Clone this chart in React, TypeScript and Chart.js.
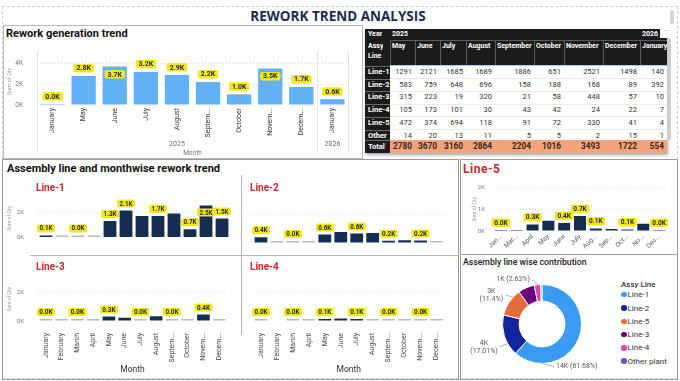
import React, { useEffect, useRef } from "react";
import { Chart, registerables } from "chart.js";

Chart.register(...registerables);

const FONT = "Roboto, 'Noto Sans', 'DejaVu Sans', sans-serif";
const TITLE_FONT = "'Open Sans', Roboto, sans-serif";
Chart.defaults.font.family = FONT;

// ================= DATA =================
const trendMonths = ["January", "May", "June", "July", "August", "Septem...", "October", "Novem...", "Decem...", "January"];
const trendYears = ["2025", "2025", "2025", "2025", "2025", "2025", "2025", "2025", "2025", "2026"];
const trendQty = [30, 2780, 3670, 3160, 2864, 2204, 1016, 3493, 1722, 554];

const tableYears = ["2025", "", "", "", "", "", "", "", "2026"];
const tableMonths = ["May", "June", "July", "August", "September", "October", "November", "December", "January"];
const tableRowNames = ["Line-1", "Line-2", "Line-3", "Line-4", "Line-5", "Other"];
const tableLine1 = [1291, 2121, 1685, 1689, 1886, 651, 2521, 1498, 140];
const tableLine2 = [583, 759, 648, 696, 158, 188, 168, 89, 392];
const tableLine3 = [315, 223, 19, 320, 21, 58, 448, 57, 10];
const tableLine4 = [105, 173, 101, 30, 43, 42, 24, 22, 7];
const tableLine5 = [472, 374, 694, 118, 91, 72, 330, 41, 4];
const tableOther = [14, 20, 13, 11, 5, 5, 2, 15, 1];
const tableTotal = [2780, 3670, 3160, 2864, 2204, 1016, 3493, 1722, 554];

const smMonths = ["January", "February", "March", "April", "May", "June", "July", "August", "Septem...", "October", "Novem...", "Decem..."];
const line1Qty = [140, 8, 10, 6, 1291, 2121, 1685, 1689, 1886, 651, 2521, 1498];
const line2Qty = [392, 6, 10, 5, 583, 759, 648, 696, 158, 188, 168, 89];
const line3Qty = [10, 6, 8, 5, 315, 223, 19, 320, 21, 58, 448, 57];
const line4Qty = [7, null, 5, 4, 105, 173, 101, 30, 43, 42, 24, 22];
const line1LabelIdx = [0, 2, 4, 5, 7, 9, 10, 11];
const altLabelIdx = [0, 2, 4, 6, 8, 10];

const line5Months = ["Jan...", "Mar...", "April", "May", "June", "July", "Aug...", "Sep...", "Oct...", "No...", "Dec..."];
const line5Qty = [4, 20, 300, 472, 374, 694, 118, 91, 72, 330, 41];
const line5LabelIdx = [0, 2, 4, 5, 6, 8, 10];

const donutLines = ["Line-1", "Line-2", "Line-5", "Line-3", "Line-4", "Other plant"];
const donutQty = [13526, 3730, 2500, 1484, 577, 113];

// ================= STYLE =================
const NAVY = "#142d53";
const GRAY_BAR = "#b3bdca";
const YELLOW = "#f3e71d";
const TREND_BLUE = "#62b1f6";
const DONUT_COLORS = ["#3a9bf3", "#12239e", "#e66c37", "#6b007b", "#e044a7", "#744ec2"];
const RED = "#c9282d";

const kFmt = (v: number) => (v / 1000).toFixed(1) + "K";

const barLabelPlugin: any = {
  id: "barLabels",
  afterDatasetsDraw(chart: any, _a: any, opts: any) {
    const { ctx, chartArea } = chart;
    const meta = chart.getDatasetMeta(0);
    const data = chart.data.datasets[0].data as (number | null)[];
    ctx.save();
    ctx.font = `bold ${opts.size}px ${FONT}`;
    ctx.textAlign = "center";
    ctx.textBaseline = "middle";
    meta.data.forEach((bar: any, i: number) => {
      const v = data[i];
      if (v == null) return;
      if (opts.indices && !opts.indices.includes(i)) return;
      const text = kFmt(v);
      const w = ctx.measureText(text).width + opts.padX * 2;
      const h = opts.boxH;
      let y = bar.y - opts.gap - h;
      if (y < chartArea.top) y = bar.y + opts.gap;
      const x = bar.x - w / 2;
      ctx.fillStyle = YELLOW;
      ctx.beginPath();
      ctx.roundRect(x, y, w, h, 2);
      ctx.fill();
      ctx.fillStyle = "#2a2a2a";
      ctx.fillText(text, bar.x, y + h / 2 + 0.5);
    });
    ctx.restore();
  },
};

const groupAxisPlugin: any = {
  id: "groupAxis",
  afterDraw(chart: any, _a: any, opts: any) {
    const { ctx, chartArea } = chart;
    const xs = chart.scales.x;
    const groups: string[] = opts.groups;
    const n = groups.length;
    const half = (xs.getPixelForValue(1) - xs.getPixelForValue(0)) / 2;
    ctx.save();
    ctx.strokeStyle = "#e2e2e2";
    ctx.lineWidth = 1;
    ctx.font = `${opts.size}px ${FONT}`;
    ctx.fillStyle = "#6a6a6a";
    ctx.textAlign = "center";
    ctx.textBaseline = "middle";
    const y0 = chartArea.top - opts.lineTop;
    const y1 = chartArea.bottom + opts.lineBottom;
    const vline = (x: number) => {
      ctx.beginPath();
      ctx.moveTo(Math.round(x) + 0.5, y0);
      ctx.lineTo(Math.round(x) + 0.5, y1);
      ctx.stroke();
    };
    let start = 0;
    for (let i = 1; i <= n; i++) {
      if (i === n || groups[i] !== groups[start]) {
        const a = xs.getPixelForValue(start) - half;
        const b = xs.getPixelForValue(i - 1) + half;
        vline(a);
        if (i === n) vline(b);
        ctx.fillText(groups[start], (a + b) / 2, chartArea.bottom + opts.labelOffset);
        start = i;
      }
    }
    ctx.restore();
  },
};

const donutLabelPlugin: any = {
  id: "donutLabels",
  afterDraw(chart: any, _a: any, opts: any) {
    const { ctx } = chart;
    const meta = chart.getDatasetMeta(0);
    const vals = chart.data.datasets[0].data as number[];
    const total = vals.reduce((a, b) => a + b, 0);
    ctx.save();
    ctx.font = `${opts.size}px ${FONT}`;
    ctx.strokeStyle = "#a0a0a0";
    ctx.fillStyle = "#555";
    ctx.lineWidth = 0.8;
    ctx.textBaseline = "middle";
    opts.items.forEach((it: any) => {
      const arc = meta.data[it.index];
      const v = vals[it.index];
      const k = Math.round(v / 1000) + "K";
      const pct = "(" + parseFloat(((v / total) * 100).toFixed(2)) + "%)";
      const ang = ((it.angle - 90) * Math.PI) / 180;
      const ax = arc.x + Math.cos(ang) * arc.outerRadius;
      const ay = arc.y + Math.sin(ang) * arc.outerRadius;
      const ex = ax + it.dx;
      const ey = ay + it.dy;
      ctx.beginPath();
      ctx.moveTo(ax, ay);
      ctx.lineTo(ex, ey);
      ctx.stroke();
      if (it.twoLine) {
        const w = Math.max(ctx.measureText(k).width, ctx.measureText(pct).width);
        const cx = ex - 2 - w / 2;
        ctx.textAlign = "center";
        ctx.fillText(k, cx, ey - 4);
        ctx.fillText(pct, cx, ey + 4);
      } else {
        const s = k + " " + pct;
        ctx.textAlign = it.dx > 0 ? "left" : "right";
        ctx.fillText(s, ex + (it.dx > 0 ? 2 : -2), ey);
      }
    });
    ctx.restore();
  },
};

// ================= CHART CONFIGS =================
const hideZeroGrid = (c: any) => (c.tick && c.tick.value === 0 ? "rgba(0,0,0,0)" : "#dedede");
const stepTicks = (step: number) => (s: any) => {
  const t: any[] = [];
  for (let v = 0; v <= s.max + 1e-9; v += step) t.push({ value: v });
  s.ticks = t;
};
const kTick = (v: any) => v / 1000 + "K";

function makeTrend(): any {
  return {
    type: "bar",
    data: {
      labels: trendMonths,
      datasets: [{ data: trendQty, backgroundColor: TREND_BLUE, categoryPercentage: 1, barPercentage: 0.78, minBarLength: 1 }],
    },
    options: {
      responsive: false,
      animation: false,
      layout: { padding: { left: 0, right: 13, top: 6.5, bottom: 0 } },
      plugins: {
        legend: { display: false },
        tooltip: { enabled: false },
        barLabels: { size: 7, padX: 3, boxH: 8.5, gap: 3.5 },
        groupAxis: { groups: trendYears, size: 7, labelOffset: 39, lineTop: 6, lineBottom: 47 },
      },
      scales: {
        x: {
          ticks: { autoSkip: false, minRotation: 90, maxRotation: 90, padding: 3, color: "#333", font: { size: 7 } },
          grid: { display: false, drawTicks: false },
          border: { display: false },
          title: { display: true, text: "Month", color: "#777", font: { size: 6.5 }, padding: { top: 0, bottom: 1 } },
          afterFit: (s: any) => {
            s.height = 53;
          },
        },
        y: {
          min: 0,
          max: 4500,
          afterBuildTicks: stepTicks(2000),
          ticks: { padding: 14, color: "#777", font: { size: 6.5 }, callback: kTick },
          grid: { color: hideZeroGrid, drawTicks: false },
          border: { display: false, dash: [1, 2] },
          title: { display: true, text: "Sum of Qty", color: "#999", font: { size: 5.5 }, padding: { top: 3, bottom: 0 } },
          afterFit: (s: any) => {
            s.width = 34;
          },
        },
      },
    },
    plugins: [barLabelPlugin, groupAxisPlugin],
  };
}

function makeSmall(values: (number | null)[], idx: number[], o: any): any {
  return {
    type: "bar",
    data: {
      labels: smMonths,
      datasets: [
        {
          data: values,
          backgroundColor: values.map((v) => (v != null && v >= 100 ? NAVY : GRAY_BAR)),
          categoryPercentage: 1,
          barPercentage: 0.8,
          minBarLength: 2,
        },
      ],
    },
    options: {
      responsive: false,
      animation: false,
      layout: { padding: o.padding },
      plugins: {
        legend: { display: false },
        tooltip: { enabled: false },
        barLabels: { indices: idx, size: 6.3, padX: 2.5, boxH: 8, gap: 3 },
      },
      scales: {
        x: o.showX
          ? {
              ticks: { autoSkip: false, minRotation: 90, maxRotation: 90, padding: 12, color: "#444", font: { size: 7 } },
              grid: { display: false, drawTicks: false },
              border: { display: false },
              title: { display: true, text: "Month", color: "#333", font: { size: 8.5 }, padding: { top: 0, bottom: 4 } },
              afterFit: (s: any) => {
                s.height = o.xHeight;
              },
            }
          : { display: false },
        y: {
          min: 0,
          max: 3000,
          afterBuildTicks: stepTicks(2000),
          ticks: { display: o.showY, padding: 14, color: "#777", font: { size: 6 }, callback: kTick },
          grid: { color: hideZeroGrid, drawTicks: false },
          border: { display: false, dash: [1, 2] },
          title: { display: o.showY, text: "Sum of Qty", color: "#999", font: { size: 5 }, padding: { top: 4, bottom: 0 } },
          afterFit: (s: any) => {
            s.width = o.yWidth;
          },
        },
      },
    },
    plugins: [barLabelPlugin],
  };
}

function makeLine5(): any {
  return {
    type: "bar",
    data: {
      labels: line5Months,
      datasets: [{ data: line5Qty, backgroundColor: NAVY, categoryPercentage: 1, barPercentage: 0.76, minBarLength: 1 }],
    },
    options: {
      responsive: false,
      animation: false,
      layout: { padding: { left: 0, right: 11, top: 6, bottom: 0 } },
      plugins: {
        legend: { display: false },
        tooltip: { enabled: false },
        barLabels: { indices: line5LabelIdx, size: 6.5, padX: 2.5, boxH: 8.5, gap: 3 },
      },
      scales: {
        x: {
          ticks: { autoSkip: false, minRotation: 45, maxRotation: 45, padding: 2, color: "#555", font: { size: 6.5 } },
          grid: { display: false, drawTicks: false },
          border: { display: false },
          afterFit: (s: any) => {
            s.height = 22;
          },
        },
        y: {
          min: 0,
          max: 2000,
          afterBuildTicks: stepTicks(1000),
          ticks: { padding: 8, color: "#777", font: { size: 6 }, callback: kTick },
          grid: { color: hideZeroGrid, drawTicks: false },
          border: { display: false, dash: [1, 2] },
          title: { display: true, text: "Sum of Qty", color: "#999", font: { size: 5 }, padding: { top: 12, bottom: 0 } },
          afterFit: (s: any) => {
            s.width = 33;
          },
        },
      },
    },
    plugins: [barLabelPlugin],
  };
}

function makeDonut(): any {
  return {
    type: "doughnut",
    data: {
      labels: donutLines,
      datasets: [{ data: donutQty, backgroundColor: DONUT_COLORS, borderWidth: 1, borderColor: "#ffffff" }],
    },
    options: {
      responsive: false,
      animation: false,
      cutout: "58%",
      layout: { padding: { left: 40, right: 36, top: 14, bottom: 14 } },
      plugins: {
        legend: { display: false },
        tooltip: { enabled: false },
        donutLabels: {
          size: 7,
          items: [
            { index: 0, angle: 180, dx: 12, dy: 3, twoLine: false },
            { index: 1, angle: 240, dx: -8, dy: 3, twoLine: true },
            { index: 2, angle: 313, dx: -8, dy: -2, twoLine: true },
            { index: 4, angle: 354, dx: -6, dy: -5, twoLine: false },
          ],
        },
      },
    },
    plugins: [donutLabelPlugin],
  };
}

// ================= COMPONENTS =================
function ChartBox({ left, top, width, height, make }: any) {
  const ref = useRef<HTMLCanvasElement>(null);
  useEffect(() => {
    const chart = new Chart(ref.current as HTMLCanvasElement, make());
    return () => chart.destroy();
  }, []);
  return <canvas ref={ref} width={width} height={height} style={{ position: "absolute", left, top, width, height }} />;
}

function Txt({ x, y, s, w = 400, c = "#222", lh, children, style }: any) {
  return (
    <div
      style={{
        position: "absolute",
        left: x,
        top: y,
        fontSize: s,
        fontWeight: w,
        color: c,
        lineHeight: (lh ?? Math.round(s * 1.2)) + "px",
        whiteSpace: "nowrap",
        ...style,
      }}
    >
      {children}
    </div>
  );
}

const COLW = [25, 25, 25, 26, 29, 39, 30, 39, 37, 27];

function DataTable() {
  const xs: number[] = [0];
  COLW.forEach((w) => xs.push(xs[xs.length - 1] + w));
  const W = xs[xs.length - 1];
  const H = 124;
  const BODY = 37;
  const RH = 12.7;
  const TOT = 111;
  const TH = 13;
  const rows = [tableLine1, tableLine2, tableLine3, tableLine4, tableLine5, tableOther];
  const BLACK = "#1b1b1b";
  const hdr: any = { position: "absolute", color: "#fff", fontWeight: 700, fontSize: 7, whiteSpace: "nowrap", overflow: "hidden" };
  const els: any[] = [];
  els.push(<div key="bgh" style={{ position: "absolute", left: 0, top: 0, width: W, height: BODY, background: BLACK }} />);
  els.push(<div key="bgc" style={{ position: "absolute", left: 0, top: 0, width: COLW[0], height: H, background: BLACK }} />);
  els.push(
    <div key="yr" style={{ ...hdr, left: 3, top: 0, lineHeight: "11px" }}>
      Year
    </div>
  );
  tableYears.forEach((y, i) => {
    if (y)
      els.push(
        <div key={"y" + i} style={{ ...hdr, left: xs[i + 1] + 2, top: 0, lineHeight: "11px" }}>
          {y}
        </div>
      );
  });
  els.push(<div key="ysep" style={{ position: "absolute", left: COLW[0], top: 11, width: W - COLW[0], height: 1, background: "#5c5c5c" }} />);
  els.push(
    <div key="assy" style={{ ...hdr, left: 3, top: 12, lineHeight: "10px" }}>
      Assy
      <br />
      Line
    </div>
  );
  tableMonths.forEach((m, i) => {
    els.push(
      <div key={"m" + i} style={{ ...hdr, left: xs[i + 1] + 2, top: 12, width: COLW[i + 1] - 2, lineHeight: "10px" }}>
        {m}
      </div>
    );
    els.push(<div key={"ms" + i} style={{ position: "absolute", left: xs[i + 1], top: 11, width: 1, height: BODY - 11, background: "#5c5c5c" }} />);
  });
  els.push(<div key="blue" style={{ position: "absolute", left: COLW[0], top: BODY - 1, width: W - COLW[0], height: 1, background: "#a9cbe8" }} />);
  rows.forEach((r, ri) => {
    const top = BODY + ri * RH;
    els.push(
      <div key={"rn" + ri} style={{ ...hdr, left: 3, top, lineHeight: RH + "px", fontSize: 7.5 }}>
        {tableRowNames[ri]}
      </div>
    );
    els.push(<div key={"rs" + ri} style={{ position: "absolute", left: 0, top: top, width: COLW[0], height: 1, background: "#6a6a6a" }} />);
    els.push(<div key={"ds" + ri} style={{ position: "absolute", left: COLW[0], top: top + RH - 0.5, width: W - COLW[0], height: 1, background: "#ececec" }} />);
    r.forEach((v, ci) => {
      els.push(
        <div
          key={"c" + ri + "_" + ci}
          style={{ position: "absolute", left: xs[ci + 1], top, width: COLW[ci + 1] - 3, textAlign: "right", fontSize: 7.5, lineHeight: RH + "px", color: "#333" }}
        >
          {v}
        </div>
      );
    });
  });
  els.push(<div key="totbg" style={{ position: "absolute", left: COLW[0], top: TOT, width: W - COLW[0], height: TH, background: "#f3a47f" }} />);
  els.push(<div key="totbgc" style={{ position: "absolute", left: 0, top: TOT, width: COLW[0], height: TH, background: BLACK, borderTop: "1px solid #6a6a6a", boxSizing: "border-box" }} />);
  els.push(
    <div key="totn" style={{ ...hdr, left: 3, top: TOT, lineHeight: TH + "px", fontSize: 7.5 }}>
      Total
    </div>
  );
  tableTotal.forEach((v, ci) => {
    els.push(
      <div
        key={"t" + ci}
        style={{ position: "absolute", left: xs[ci + 1], top: TOT, width: COLW[ci + 1] - 3, textAlign: "right", fontSize: 8.3, fontWeight: 700, lineHeight: TH + "px", color: "#3a2418" }}
      >
        {v}
      </div>
    );
  });
  return (
    <div
      style={{
        position: "absolute",
        left: 365,
        top: 29,
        width: W,
        height: H,
        overflow: "hidden",
        background: "#fff",
        boxShadow: "1px 2px 3px rgba(0,0,0,0.35)",
        fontFamily: FONT,
      }}
    >
      {els}
    </div>
  );
}

export default function App() {
  const box = (l: number, t: number, w: number, h: number, c = "#a3a3a3") => (
    <div style={{ position: "absolute", left: l, top: t, width: w, height: h, border: `1px solid ${c}`, boxSizing: "border-box" }} />
  );
  return (
    <div style={{ position: "fixed", left: 0, top: 0, width: 680, height: 381, background: "#fff", overflow: "hidden", fontFamily: FONT, color: "#222" }}>
      <div style={{ position: "absolute", left: 2, top: 6, width: 676, height: 373, border: "1px dashed #cfcfcf", boxSizing: "border-box" }} />
      <div
        style={{
          position: "absolute",
          left: 0,
          top: 8,
          width: 676,
          textAlign: "center",
          fontFamily: TITLE_FONT,
          fontWeight: 700,
          fontSize: 13.5,
          lineHeight: "16px",
          color: "#1c2b4f",
        }}
      >
        REWORK TREND ANALYSIS
      </div>
      <div style={{ position: "absolute", left: 670, top: 10, width: 4, height: 14, background: "#d6d6d6", borderRadius: 2 }} />

      {/* Top chart panel */}
      {box(3, 25, 360, 134, "#b9b9b9")}
      <Txt x={6} y={26.5} s={11} w={700} c="#111" lh={13}>
        Rework generation trend
      </Txt>
      <ChartBox left={3} top={40} width={358} height={118} make={makeTrend} />

      {/* Table */}
      <DataTable />
      <div style={{ position: "absolute", left: 667, top: 38, width: 4, height: 102, background: "#cdcdcd", borderRadius: 2 }} />
      <div style={{ position: "absolute", left: 660, top: 26, width: 14, height: 12, background: "#fff", color: "#888", fontSize: 8, lineHeight: "10px", textAlign: "center" }}>···</div>

      {/* Small multiples panel */}
      {box(2, 159, 457, 221, "#9a9a9a")}
      <Txt x={7} y={161.5} s={11} w={700} c="#111" lh={13}>
        Assembly line and monthwise rework trend
      </Txt>
      <ChartBox left={3} top={176} width={237} height={79} make={() => makeSmall(line1Qty, line1LabelIdx, { padding: { left: 0, right: 10, top: 23.5, bottom: 12 }, showX: false, showY: true, yWidth: 35 })} />
      <ChartBox left={241} top={176} width={217} height={79} make={() => makeSmall(line2Qty, altLabelIdx, { padding: { left: 0, right: 13.5, top: 23.5, bottom: 12 }, showX: false, showY: false, yWidth: 12 })} />
      <ChartBox left={3} top={256} width={237} height={123} make={() => makeSmall(line3Qty, altLabelIdx, { padding: { left: 0, right: 10, top: 21.5, bottom: 0 }, showX: true, xHeight: 58, showY: true, yWidth: 35 })} />
      <ChartBox left={241} top={256} width={217} height={123} make={() => makeSmall(line4Qty, altLabelIdx, { padding: { left: 0, right: 13.5, top: 21.5, bottom: 0 }, showX: true, xHeight: 58, showY: false, yWidth: 12 })} />
      <div style={{ position: "absolute", left: 241, top: 175, width: 1, height: 160, background: "#b5b5b5" }} />
      <div style={{ position: "absolute", left: 30, top: 255, width: 428, height: 1, background: "#b5b5b5" }} />
      <Txt x={36} y={182} s={10} w={700} c={RED} lh={12}>
        Line-1
      </Txt>
      <Txt x={250} y={182} s={10} w={700} c={RED} lh={12}>
        Line-2
      </Txt>
      <Txt x={36} y={261} s={10} w={700} c={RED} lh={12}>
        Line-3
      </Txt>
      <Txt x={250} y={261} s={10} w={700} c={RED} lh={12}>
        Line-4
      </Txt>

      {/* Line-5 panel */}
      {box(460, 159, 218, 96, "#9a9a9a")}
      <Txt x={463} y={162} s={12} w={700} c={RED} lh={14} style={{ letterSpacing: 0.5 }}>
        Line-5
      </Txt>
      <ChartBox left={460} top={176} width={218} height={77} make={makeLine5} />

      {/* Donut panel */}
      {box(460, 254, 218, 126, "#9a9a9a")}
      <Txt x={463} y={256.5} s={8.7} w={500} c="#222" lh={11}>
        Assembly line wise contribution
      </Txt>
      <ChartBox left={462} top={270} width={156} height={108} make={makeDonut} />
      <Txt x={621} y={278.5} s={8} w={500} c="#333" lh={11}>
        Assy Line
      </Txt>
      {donutLines.map((name, i) => (
        <React.Fragment key={name}>
          <div
            style={{
              position: "absolute",
              left: 621,
              top: 294.7 + i * 13.3 - 2.75,
              width: 5.5,
              height: 5.5,
              borderRadius: "50%",
              background: DONUT_COLORS[i],
            }}
          />
          <Txt x={627.5} y={294.7 + i * 13.3 - 5.5} s={8} c="#333" lh={11}>
            {name}
          </Txt>
        </React.Fragment>
      ))}
    </div>
  );
}
